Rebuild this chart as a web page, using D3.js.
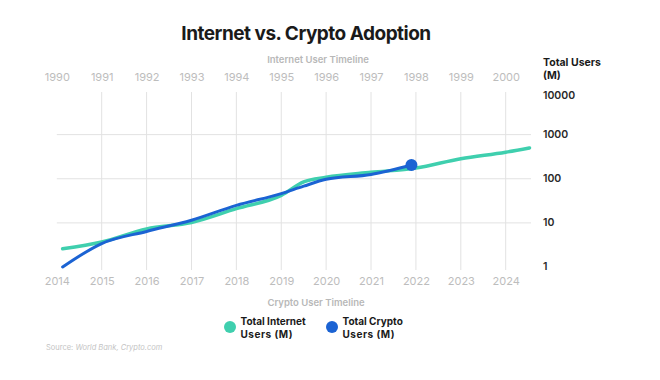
<!DOCTYPE html>
<html>
<head>
<meta charset="utf-8">
<script src="https://cdn.jsdelivr.net/npm/d3@7"></script>
<style>
  html, body { margin: 0; padding: 0; background: #fff; }
  svg { display: block; font-family: Inter, "Noto Sans", sans-serif; }
</style>
</head>
<body>
<svg id="chart" width="660" height="380"></svg>
<script>
// ---- data ----
const internetYears = [1990, 1991, 1992, 1993, 1994, 1995, 1996, 1997, 1998, 1999, 2000];
const cryptoYears = [2014, 2015, 2016, 2017, 2018, 2019, 2020, 2021, 2022, 2023, 2024];
const yTicks = [1, 10, 100, 1000, 10000];

// Internet users (M), plotted against internet timeline (top axis)
const internetX = [1990.13, 1991, 1992, 1993, 1994, 1995, 1995.5, 1996, 1997, 1998, 1999, 2000, 2000.53];
const internetUsers = [2.6, 3.7, 7.3, 10.2, 21, 42, 85, 108, 140, 175, 285, 400, 500];

// Crypto users (M), plotted against crypto timeline (bottom axis)
const cryptoX = [2014.13, 2015, 2016, 2017, 2018, 2019, 2019.5, 2020, 2021, 2021.9];
const cryptoUsers = [1, 3.4, 6.4, 11.5, 25, 46, 68, 97, 125, 205];

// ---- layout ----
const svg = d3.select("#chart");
const mLeft = 56.8, mRight = 505.7, mTop = 90.5, mBottom = 267;
const xTop = d3.scaleLinear().domain([1990, 2000]).range([mLeft, mRight]);
const xBot = d3.scaleLinear().domain([2014, 2024]).range([mLeft, mRight]);
const y = d3.scaleLog().domain([1, 10000]).range([mBottom, mTop]);

const teal = "#3fcfae";
const blue = "#1b63d3";

// title
svg.append("text").attr("x", 306).attr("y", 40).attr("text-anchor", "middle")
  .attr("font-size", 19).attr("font-weight", 700).attr("fill", "#1a1a1a")
  .attr("letter-spacing", -0.5)
  .text("Internet vs. Crypto Adoption");

svg.append("text").attr("x", 318).attr("y", 62.5).attr("text-anchor", "middle")
  .attr("font-size", 9.5).attr("font-weight", 600).attr("fill", "#b8b8b8")
  .text("Internet User Timeline");

// grid: vertical
svg.append("g").selectAll("line").data(internetYears.slice(1)).join("line")
  .attr("x1", d => xTop(d)).attr("x2", d => xTop(d))
  .attr("y1", 92).attr("y2", 270)
  .attr("stroke", "#e2e2e2").attr("stroke-width", 1);

// grid: horizontal (10, 100, 1000)
svg.append("g").selectAll("line").data(yTicks.filter(v => v > 1 && v < 10000)).join("line")
  .attr("x1", mLeft).attr("x2", 531)
  .attr("y1", d => y(d)).attr("y2", d => y(d))
  .attr("stroke", "#e2e2e2").attr("stroke-width", 1);

// top axis labels
const topAxis = d3.axisTop(xTop).tickValues(internetYears).tickFormat(d3.format("d")).tickSize(0).tickPadding(0);
const gTop = svg.append("g").attr("transform", "translate(0,81)").call(topAxis);
gTop.select(".domain").remove();
gTop.selectAll("text").attr("font-size", 11).attr("fill", "#bdbdbd").attr("font-family", "Inter, sans-serif");

// bottom axis labels
const botAxis = d3.axisBottom(xBot).tickValues(cryptoYears).tickFormat(d3.format("d")).tickSize(0).tickPadding(0);
const gBot = svg.append("g").attr("transform", "translate(0,277)").call(botAxis);
gBot.select(".domain").remove();
gBot.selectAll("text").attr("font-size", 11).attr("fill", "#bdbdbd").attr("font-family", "Inter, sans-serif");

// right axis labels
const yAxis = d3.axisRight(y).tickValues(yTicks).tickFormat(d3.format("d")).tickSize(0).tickPadding(0);
const gY = svg.append("g").attr("transform", "translate(543,0)").call(yAxis);
gY.select(".domain").remove();
gY.selectAll(".tick").attr("transform", d => `translate(0,${Math.max(y(d), 96)})`);
gY.selectAll("text").attr("font-size", 10.5).attr("font-weight", 600).attr("fill", "#2a2a2a").attr("font-family", "Inter, sans-serif");

svg.append("text").attr("x", 543).attr("y", 66).attr("font-size", 10.5).attr("font-weight", 700).attr("fill", "#1a1a1a")
  .text("Total Users");
svg.append("text").attr("x", 543).attr("y", 79).attr("font-size", 10.5).attr("font-weight", 700).attr("fill", "#1a1a1a")
  .text("(M)");

// lines
const lineInternet = d3.line().x((d, i) => xTop(internetX[i])).y(d => y(d)).curve(d3.curveMonotoneX);
const lineCrypto = d3.line().x((d, i) => xBot(cryptoX[i])).y(d => y(d)).curve(d3.curveMonotoneX);

svg.append("path").datum(internetUsers).attr("d", lineInternet)
  .attr("fill", "none").attr("stroke", teal).attr("stroke-width", 3.5).attr("stroke-linecap", "round");
svg.append("path").datum(cryptoUsers).attr("d", lineCrypto)
  .attr("fill", "none").attr("stroke", blue).attr("stroke-width", 3).attr("stroke-linecap", "round");

// end dot for crypto
svg.append("circle")
  .attr("cx", xBot(cryptoX[cryptoX.length - 1]))
  .attr("cy", y(cryptoUsers[cryptoUsers.length - 1]))
  .attr("r", 6).attr("fill", blue);

// bottom title
svg.append("text").attr("x", 316).attr("y", 306).attr("text-anchor", "middle")
  .attr("font-size", 9.5).attr("font-weight", 600).attr("fill", "#b8b8b8")
  .text("Crypto User Timeline");

// legend
const legend = [
  { label: ["Total Internet", "Users (M)"], color: teal, x: 230 },
  { label: ["Total Crypto", "Users (M)"], color: blue, x: 332 }
];
const lg = svg.append("g").selectAll("g").data(legend).join("g");
lg.append("circle").attr("cx", d => d.x).attr("cy", 327).attr("r", 6).attr("fill", d => d.color);
lg.append("text").attr("x", d => d.x + 10.5).attr("y", 325)
  .attr("font-size", 10).attr("font-weight", 700).attr("fill", "#1a1a1a")
  .text(d => d.label[0]);
lg.append("text").attr("x", d => d.x + 10.5).attr("y", 337.5)
  .attr("font-size", 10).attr("font-weight", 700).attr("fill", "#1a1a1a").attr("letter-spacing", 0.5)
  .text(d => d.label[1]);

// source
svg.append("text").attr("x", 46).attr("y", 349.5)
  .attr("font-size", 7.5).attr("fill", "#c4c4c4")
  .call(t => {
    t.append("tspan").text("Source: ");
    t.append("tspan").attr("font-style", "italic").text("World Bank, Crypto.com");
  });
</script>
</body>
</html>
